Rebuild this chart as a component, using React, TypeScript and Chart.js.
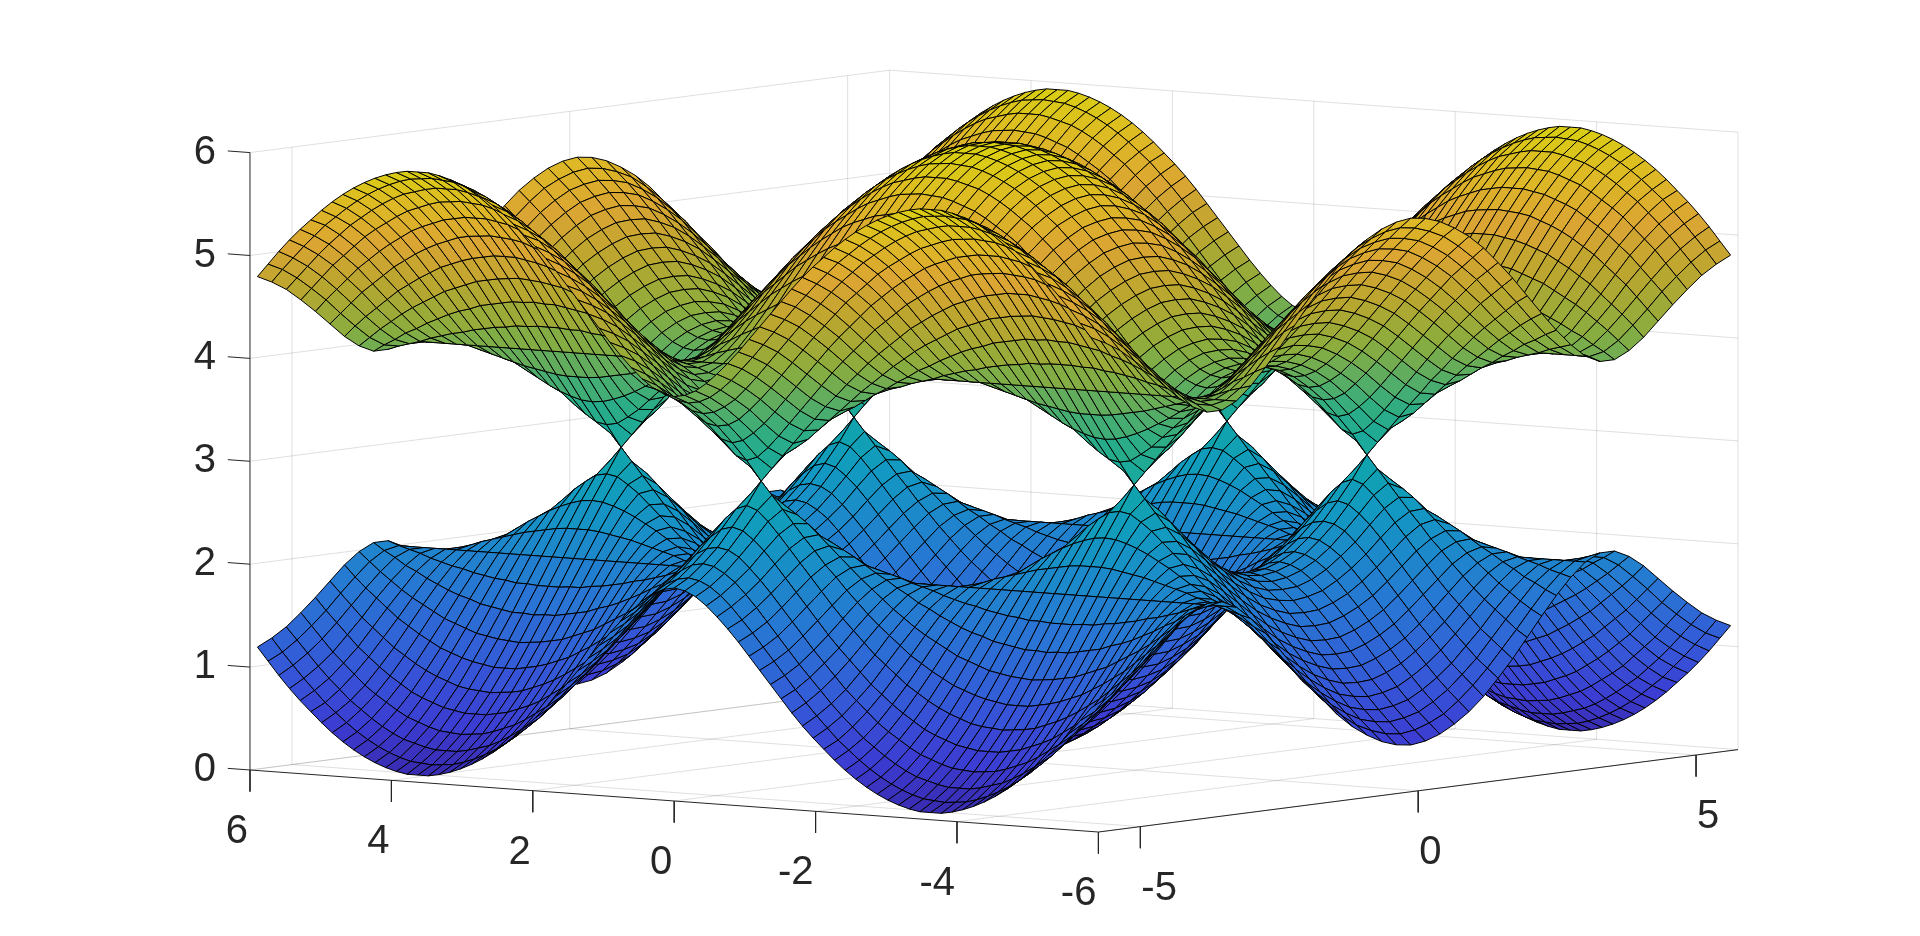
import React, { useEffect, useRef } from "react";
import { Chart, registerables } from "chart.js";

Chart.register(...registerables);

// Axis ticks
const xTicks = [6, 4, 2, 0, -2, -4, -6];
const yTicks = [-5, 0, 5];
const zTicks = [0, 1, 2, 3, 4, 5, 6];
const xLimit = 6;
const yLimit = 5.755;
const bandCentre = 3;

// Mesh nodes of one quadrant (the surface is mirrored in x and y)
const xNodes = [0, 0.1512, 0.3023, 0.4535, 0.6046, 0.7558, 0.9069, 1.0581, 1.2092, 1.3604, 1.5115, 1.6627, 1.8138, 1.965, 2.1161, 2.2673, 2.4184, 2.5696, 2.7207, 2.8719, 3.023, 3.1742, 3.3253, 3.4765, 3.6276, 3.7788, 3.9299, 4.0811, 4.2322, 4.3834, 4.5345, 4.6857, 4.8368, 4.988, 5.1391, 5.2903, 5.4414, 5.5926, 5.7437, 5.8949];
const yNodes = [0, 0.2618, 0.5236, 0.7854, 1.0472, 1.309, 1.5708, 1.8326, 2.0944, 2.3562, 2.618, 2.8798, 3.1416, 3.4034, 3.6652, 3.927, 4.1888, 4.4506, 4.7124, 4.9742, 5.236, 5.4978, 5.755];

// Distance of each band from the centre level z = 3; one row per x node, one column per y node
const bandSplit = [
  [3, 2.98, 2.93, 2.85, 2.73, 2.59, 2.41, 2.22, 2, 1.77, 1.52, 1.26, 1, 0.74, 0.48, 0.24, 0, 0.22, 0.41, 0.59, 0.73, 0.85, 0.93],
  [2.99, 2.98, 2.93, 2.84, 2.73, 2.58, 2.41, 2.21, 2, 1.76, 1.51, 1.26, 1, 0.74, 0.49, 0.26, 0.13, 0.26, 0.44, 0.61, 0.75, 0.87, 0.95],
  [2.98, 2.96, 2.91, 2.83, 2.71, 2.57, 2.39, 2.2, 1.98, 1.75, 1.51, 1.25, 1, 0.75, 0.52, 0.33, 0.26, 0.36, 0.52, 0.67, 0.81, 0.92, 1],
  [2.95, 2.93, 2.88, 2.8, 2.68, 2.54, 2.37, 2.18, 1.96, 1.73, 1.49, 1.25, 1, 0.77, 0.56, 0.41, 0.39, 0.48, 0.62, 0.77, 0.89, 1, 1.08],
  [2.91, 2.89, 2.84, 2.76, 2.65, 2.5, 2.33, 2.14, 1.93, 1.71, 1.47, 1.23, 1, 0.79, 0.61, 0.51, 0.52, 0.61, 0.74, 0.88, 1, 1.1, 1.18],
  [2.86, 2.84, 2.79, 2.71, 2.6, 2.46, 2.29, 2.1, 1.89, 1.67, 1.45, 1.22, 1, 0.81, 0.67, 0.61, 0.64, 0.74, 0.87, 1, 1.12, 1.22, 1.29],
  [2.8, 2.78, 2.73, 2.65, 2.54, 2.4, 2.24, 2.05, 1.85, 1.63, 1.41, 1.2, 1, 0.84, 0.73, 0.71, 0.77, 0.87, 1, 1.13, 1.25, 1.34, 1.41],
  [2.73, 2.71, 2.66, 2.58, 2.47, 2.33, 2.17, 1.99, 1.79, 1.59, 1.38, 1.18, 1, 0.87, 0.8, 0.81, 0.88, 1, 1.13, 1.26, 1.38, 1.47, 1.54],
  [2.65, 2.63, 2.58, 2.5, 2.39, 2.26, 2.1, 1.92, 1.73, 1.53, 1.34, 1.15, 1, 0.9, 0.87, 0.91, 1, 1.13, 1.26, 1.39, 1.51, 1.6, 1.67],
  [2.56, 2.54, 2.49, 2.41, 2.31, 2.18, 2.02, 1.85, 1.66, 1.47, 1.29, 1.13, 1, 0.93, 0.93, 1, 1.11, 1.25, 1.39, 1.52, 1.64, 1.73, 1.8],
  [2.46, 2.44, 2.39, 2.32, 2.21, 2.08, 1.93, 1.76, 1.59, 1.41, 1.24, 1.1, 1, 0.97, 1, 1.09, 1.22, 1.36, 1.51, 1.64, 1.76, 1.86, 1.93],
  [2.35, 2.33, 2.29, 2.21, 2.11, 1.98, 1.84, 1.67, 1.5, 1.34, 1.18, 1.07, 1, 1, 1.06, 1.18, 1.32, 1.47, 1.62, 1.76, 1.88, 1.98, 2.06],
  [2.24, 2.22, 2.18, 2.1, 2, 1.88, 1.73, 1.58, 1.41, 1.26, 1.13, 1.03, 1, 1.03, 1.13, 1.26, 1.41, 1.58, 1.73, 1.88, 2, 2.1, 2.18],
  [2.12, 2.1, 2.06, 1.98, 1.88, 1.76, 1.62, 1.47, 1.32, 1.18, 1.06, 1, 1, 1.07, 1.18, 1.34, 1.5, 1.67, 1.84, 1.98, 2.11, 2.21, 2.29],
  [1.99, 1.98, 1.93, 1.86, 1.76, 1.64, 1.51, 1.36, 1.22, 1.09, 1, 0.97, 1, 1.1, 1.24, 1.41, 1.59, 1.76, 1.93, 2.08, 2.21, 2.32, 2.39],
  [1.86, 1.85, 1.8, 1.73, 1.64, 1.52, 1.39, 1.25, 1.11, 1, 0.93, 0.93, 1, 1.13, 1.29, 1.47, 1.66, 1.85, 2.02, 2.18, 2.31, 2.41, 2.49],
  [1.73, 1.72, 1.67, 1.6, 1.51, 1.39, 1.26, 1.13, 1, 0.91, 0.87, 0.9, 1, 1.15, 1.34, 1.53, 1.73, 1.92, 2.1, 2.26, 2.39, 2.5, 2.58],
  [1.6, 1.59, 1.54, 1.47, 1.38, 1.26, 1.13, 1, 0.88, 0.81, 0.8, 0.87, 1, 1.18, 1.38, 1.59, 1.79, 1.99, 2.17, 2.33, 2.47, 2.58, 2.66],
  [1.47, 1.46, 1.41, 1.34, 1.25, 1.13, 1, 0.87, 0.77, 0.71, 0.73, 0.84, 1, 1.2, 1.41, 1.63, 1.85, 2.05, 2.24, 2.4, 2.54, 2.65, 2.73],
  [1.35, 1.34, 1.29, 1.22, 1.12, 1, 0.87, 0.74, 0.64, 0.61, 0.67, 0.81, 1, 1.22, 1.45, 1.67, 1.89, 2.1, 2.29, 2.46, 2.6, 2.71, 2.79],
  [1.24, 1.22, 1.18, 1.1, 1, 0.88, 0.74, 0.61, 0.52, 0.51, 0.61, 0.79, 1, 1.23, 1.47, 1.71, 1.93, 2.14, 2.33, 2.5, 2.65, 2.76, 2.84],
  [1.14, 1.13, 1.08, 1, 0.89, 0.77, 0.62, 0.48, 0.39, 0.41, 0.56, 0.77, 1, 1.25, 1.49, 1.73, 1.96, 2.18, 2.37, 2.54, 2.68, 2.8, 2.88],
  [1.07, 1.05, 1, 0.92, 0.81, 0.67, 0.52, 0.36, 0.26, 0.33, 0.52, 0.75, 1, 1.25, 1.51, 1.75, 1.98, 2.2, 2.39, 2.57, 2.71, 2.83, 2.91],
  [1.02, 1, 0.95, 0.87, 0.75, 0.61, 0.44, 0.26, 0.13, 0.26, 0.49, 0.74, 1, 1.26, 1.51, 1.76, 2, 2.21, 2.41, 2.58, 2.73, 2.84, 2.93],
  [1, 0.98, 0.93, 0.85, 0.73, 0.59, 0.41, 0.22, 0, 0.24, 0.48, 0.74, 1, 1.26, 1.52, 1.77, 2, 2.22, 2.41, 2.59, 2.73, 2.85, 2.93],
  [1.02, 1, 0.95, 0.87, 0.75, 0.61, 0.44, 0.26, 0.13, 0.26, 0.49, 0.74, 1, 1.26, 1.51, 1.76, 2, 2.21, 2.41, 2.58, 2.73, 2.84, 2.93],
  [1.07, 1.05, 1, 0.92, 0.81, 0.67, 0.52, 0.36, 0.26, 0.33, 0.52, 0.75, 1, 1.25, 1.51, 1.75, 1.98, 2.2, 2.39, 2.57, 2.71, 2.83, 2.91],
  [1.14, 1.13, 1.08, 1, 0.89, 0.77, 0.62, 0.48, 0.39, 0.41, 0.56, 0.77, 1, 1.25, 1.49, 1.73, 1.96, 2.18, 2.37, 2.54, 2.68, 2.8, 2.88],
  [1.24, 1.22, 1.18, 1.1, 1, 0.88, 0.74, 0.61, 0.52, 0.51, 0.61, 0.79, 1, 1.23, 1.47, 1.71, 1.93, 2.14, 2.33, 2.5, 2.65, 2.76, 2.84],
  [1.35, 1.34, 1.29, 1.22, 1.12, 1, 0.87, 0.74, 0.64, 0.61, 0.67, 0.81, 1, 1.22, 1.45, 1.67, 1.89, 2.1, 2.29, 2.46, 2.6, 2.71, 2.79],
  [1.47, 1.46, 1.41, 1.34, 1.25, 1.13, 1, 0.87, 0.77, 0.71, 0.73, 0.84, 1, 1.2, 1.41, 1.63, 1.85, 2.05, 2.24, 2.4, 2.54, 2.65, 2.73],
  [1.6, 1.59, 1.54, 1.47, 1.38, 1.26, 1.13, 1, 0.88, 0.81, 0.8, 0.87, 1, 1.18, 1.38, 1.59, 1.79, 1.99, 2.17, 2.33, 2.47, 2.58, 2.66],
  [1.73, 1.72, 1.67, 1.6, 1.51, 1.39, 1.26, 1.13, 1, 0.91, 0.87, 0.9, 1, 1.15, 1.34, 1.53, 1.73, 1.92, 2.1, 2.26, 2.39, 2.5, 2.58],
  [1.86, 1.85, 1.8, 1.73, 1.64, 1.52, 1.39, 1.25, 1.11, 1, 0.93, 0.93, 1, 1.13, 1.29, 1.47, 1.66, 1.85, 2.02, 2.18, 2.31, 2.41, 2.49],
  [1.99, 1.98, 1.93, 1.86, 1.76, 1.64, 1.51, 1.36, 1.22, 1.09, 1, 0.97, 1, 1.1, 1.24, 1.41, 1.59, 1.76, 1.93, 2.08, 2.21, 2.32, 2.39],
  [2.12, 2.1, 2.06, 1.98, 1.88, 1.76, 1.62, 1.47, 1.32, 1.18, 1.06, 1, 1, 1.07, 1.18, 1.34, 1.5, 1.67, 1.84, 1.98, 2.11, 2.21, 2.29],
  [2.24, 2.22, 2.18, 2.1, 2, 1.88, 1.73, 1.58, 1.41, 1.26, 1.13, 1.03, 1, 1.03, 1.13, 1.26, 1.41, 1.58, 1.73, 1.88, 2, 2.1, 2.18],
  [2.35, 2.33, 2.29, 2.21, 2.11, 1.98, 1.84, 1.67, 1.5, 1.34, 1.18, 1.07, 1, 1, 1.06, 1.18, 1.32, 1.47, 1.62, 1.76, 1.88, 1.98, 2.06],
  [2.46, 2.44, 2.39, 2.32, 2.21, 2.08, 1.93, 1.76, 1.59, 1.41, 1.24, 1.1, 1, 0.97, 1, 1.09, 1.22, 1.36, 1.51, 1.64, 1.76, 1.86, 1.93],
  [2.56, 2.54, 2.49, 2.41, 2.31, 2.18, 2.02, 1.85, 1.66, 1.47, 1.29, 1.13, 1, 0.93, 0.93, 1, 1.11, 1.25, 1.39, 1.52, 1.64, 1.73, 1.8],
];

// Colour map, low to high
const colourStops: [number, number[]][] = [
  [0, [63, 46, 192]],
  [0.08, [68, 68, 238]],
  [0.16, [61, 98, 245]],
  [0.28, [45, 135, 240]],
  [0.42, [20, 174, 220]],
  [0.5, [18, 189, 189]],
  [0.58, [53, 197, 149]],
  [0.7, [160, 196, 69]],
  [0.78, [212, 189, 53]],
  [0.85, [248, 187, 58]],
  [0.92, [252, 210, 42]],
  [1, [247, 238, 18]],
];
// The reference mesh is much finer, so its black lines dim the overall tone
const meshShade = 0.88;

function colourFor(z: number) {
  const t = Math.min(1, Math.max(0, z / 6));
  for (let i = 1; i < colourStops.length; i++) {
    const [t1, c1] = colourStops[i];
    const [t0, c0] = colourStops[i - 1];
    if (t <= t1) {
      const f = (t - t0) / (t1 - t0);
      const m = c0.map((c, k) => Math.round((c + (c1[k] - c) * f) * meshShade));
      return `rgb(${m[0]},${m[1]},${m[2]})`;
    }
  }
  return "rgb(217,209,16)";
}

// Oblique view: horizontal = pixel position, vertical = height in z units at the z axis
function project(x: number, y: number, z: number) {
  return {
    x: 994 - 70.7 * x + 55.57 * y,
    y: z + 0.0991 + 0.05024 * x + 0.06958 * y,
  };
}
const nearness = (x: number, y: number, z: number) => -x - 1.2723 * y + 0.1388 * z;

const INK = "rgb(38,38,38)";
const GRID = "rgba(38,38,38,0.15)";
const FONT = { family: "'Liberation Sans', Arial, sans-serif", size: 40 };

function lineSet(points: { x: number; y: number }[], color: string) {
  return {
    type: "line" as const,
    data: points,
    borderColor: color,
    borderWidth: 1,
    pointRadius: 0,
    fill: false,
    tension: 0,
    clip: false as const,
  };
}

function surfaceSets() {
  const xs = [...xNodes.slice(1).reverse().map((v) => -v), ...xNodes];
  const ys = [...yNodes.slice(1).reverse().map((v) => -v), ...yNodes];
  const n = xNodes.length - 1;
  const m = yNodes.length - 1;
  const split = (i: number, j: number) => bandSplit[Math.abs(i - n)][Math.abs(j - m)];
  const cells: { key: number; set: any }[] = [];
  for (const sign of [1, -1]) {
    for (let i = 0; i < xs.length - 1; i++) {
      for (let j = 0; j < ys.length - 1; j++) {
        const c = [
          [i, j],
          [i + 1, j],
          [i + 1, j + 1],
          [i, j + 1],
        ].map(([a, b]) => ({ x: xs[a], y: ys[b], z: bandCentre + sign * split(a, b) }));
        const mx = c.reduce((s, p) => s + p.x, 0) / 4;
        const my = c.reduce((s, p) => s + p.y, 0) / 4;
        const mz = c.reduce((s, p) => s + p.z, 0) / 4;
        const pts = [...c, c[0]].map((p) => project(p.x, p.y, p.z));
        cells.push({
          key: nearness(mx, my, mz),
          set: {
            type: "line" as const,
            data: pts,
            borderColor: "rgb(0,0,0)",
            borderWidth: 1,
            backgroundColor: colourFor(mz),
            fill: "shape",
            pointRadius: 0,
            tension: 0,
            clip: false as const,
          },
        });
      }
    }
  }
  cells.sort((a, b) => b.key - a.key);
  return cells.map((c) => c.set);
}

function axisSets() {
  const out: any[] = [];
  const front = [
    [project(xLimit, -yLimit, 0), project(-xLimit, -yLimit, 0)],
    [project(-xLimit, -yLimit, 0), project(-xLimit, yLimit, 0)],
    [project(xLimit, -yLimit, 0), project(xLimit, -yLimit, 6)],
  ];
  front.forEach((p) => out.push(lineSet(p, INK)));
  xTicks.forEach((v) => out.push(lineSet([project(v, -yLimit, 0), project(v, -yLimit, -0.21)], INK)));
  yTicks.forEach((v) => out.push(lineSet([project(-xLimit, v, 0), project(-xLimit, v, -0.21)], INK)));
  zTicks.forEach((v) => out.push(lineSet([project(xLimit, -yLimit, v), project(xLimit + 0.314, -yLimit, v)], INK)));
  return out;
}

function gridSets() {
  const out: any[] = [];
  xTicks.forEach((v) => {
    out.push(lineSet([project(v, -yLimit, 0), project(v, yLimit, 0), project(v, yLimit, 6)], GRID));
  });
  yTicks.forEach((v) => {
    out.push(lineSet([project(-xLimit, v, 0), project(xLimit, v, 0), project(xLimit, v, 6)], GRID));
  });
  zTicks.forEach((v) => {
    out.push(lineSet([project(xLimit, -yLimit, v), project(xLimit, yLimit, v), project(-xLimit, yLimit, v)], GRID));
  });
  return out;
}

const tickLabels = {
  id: "tickLabels",
  afterDraw(chart: any) {
    const { ctx, scales } = chart;
    ctx.save();
    ctx.fillStyle = INK;
    ctx.font = `${FONT.size}px ${FONT.family}`;
    ctx.textBaseline = "middle";
    ctx.textAlign = "right";
    xTicks.forEach((v) => {
      const p = project(v, -yLimit, 0);
      ctx.fillText(String(v), scales.x.getPixelForValue(p.x) - 2, scales.y.getPixelForValue(p.y) + 62);
    });
    ctx.textAlign = "left";
    yTicks.forEach((v) => {
      const p = project(-xLimit, v, 0);
      ctx.fillText(String(v), scales.x.getPixelForValue(p.x) + 1, scales.y.getPixelForValue(p.y) + 62);
    });
    ctx.restore();
  },
};

export default function App() {
  const ref = useRef<HTMLCanvasElement>(null);
  useEffect(() => {
    const chart = new Chart(ref.current as HTMLCanvasElement, {
      type: "line",
      data: { datasets: [...axisSets(), ...surfaceSets(), ...gridSets()] as any },
      options: {
        animation: false,
        responsive: false,
        devicePixelRatio: 1,
        events: [],
        layout: { padding: 0 },
        plugins: { legend: { display: false }, tooltip: { enabled: false }, title: { display: false } },
        scales: {
          x: { type: "linear", display: false, min: 250, max: 1920 },
          y: {
            type: "linear",
            position: "left",
            min: -1.6132,
            max: 7.483,
            afterBuildTicks: (axis: any) => {
              axis.ticks = zTicks.map((value) => ({ value }));
            },
            afterFit: (axis: any) => {
              axis.width = 250;
              axis.paddingTop = 0;
              axis.paddingBottom = 0;
            },
            grid: { display: false, drawTicks: false },
            border: { display: false },
            ticks: {
              autoSkip: false,
              padding: 34,
              color: INK,
              font: FONT,
              callback: (v: any) => String(v),
            },
          },
        },
      } as any,
      plugins: [tickLabels],
    });
    return () => chart.destroy();
  }, []);
  return (
    <canvas
      ref={ref}
      width={1920}
      height={936}
      style={{ position: "absolute", left: 0, top: 0, width: 1920, height: 936, display: "block" }}
    />
  );
}
